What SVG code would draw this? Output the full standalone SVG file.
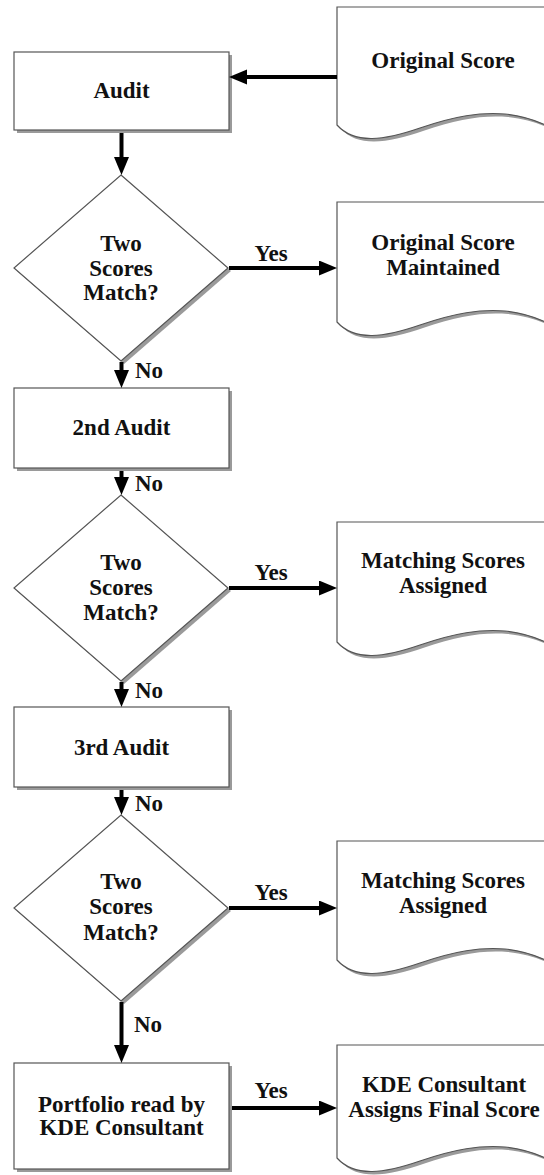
<svg xmlns="http://www.w3.org/2000/svg" width="544" height="1175" viewBox="0 0 544 1175">
<style>
.box{fill:#fff;stroke:#555;stroke-width:1.2}
.shd{fill:#9a9a9a;stroke:none}
text{font-family:'Liberation Serif',Tinos,'DejaVu Serif',serif;font-weight:bold;font-size:23px;fill:#111}
.t{text-anchor:middle}
.c{stroke:#000;stroke-width:4;fill:none;marker-end:url(#ah)}
</style>
<defs>
<marker id="ah" markerUnits="userSpaceOnUse" markerWidth="20" markerHeight="16" viewBox="0 0 20 16" refX="8" refY="7.5" orient="auto">
<path d="M0,0 L18,7.5 L0,15 Z" fill="#000"/>
</marker>
</defs>
<rect width="544" height="1175" fill="#fff"/>

<g id="doc-original">
<path class="shd" d="M340,10 L340,128 C358,148 388,143 423,131 C458,119 483,115 508,117 C528,119 543,125 555,131 L555,10 Z"/>
<path class="box" d="M337,7 L337,125 C355,145 385,140 420,128 C455,116 480,112 505,114 C525,116 540,122 552,128 L552,7 Z"/>
<text class="t" x="443" y="68">Original Score</text>
</g>

<g id="audit1">
<rect class="shd" x="17" y="55" width="215" height="78"/>
<rect class="box" x="14" y="52" width="215" height="78"/>
<text class="t" x="121.5" y="98">Audit</text>
</g>

<g id="decision1">
<polygon class="shd" points="124,178 231,271 124,364 17,271"/>
<polygon class="box" points="121,175 228,268 121,361 14,268"/>
<text class="t" x="121" y="251">Two</text>
<text class="t" x="121" y="276">Scores</text>
<text class="t" x="121" y="300">Match?</text>
</g>

<g id="doc-maintained">
<path class="shd" d="M340,205 L340,325 C358,345 388,340 423,328 C458,316 483,312 508,314 C528,316 543,322 555,328 L555,205 Z"/>
<path class="box" d="M337,202 L337,322 C355,342 385,337 420,325 C455,313 480,309 505,311 C525,313 540,319 552,325 L552,202 Z"/>
<text class="t" x="443" y="250">Original Score</text>
<text class="t" x="443" y="275">Maintained</text>
</g>

<g id="audit2">
<rect class="shd" x="17" y="391" width="215" height="80"/>
<rect class="box" x="14" y="388" width="215" height="80"/>
<text class="t" x="121.5" y="435">2nd Audit</text>
</g>

<g id="decision2">
<polygon class="shd" points="124,498 231,591 124,684 17,591"/>
<polygon class="box" points="121,495 228,588 121,681 14,588"/>
<text class="t" x="121" y="570">Two</text>
<text class="t" x="121" y="595">Scores</text>
<text class="t" x="121" y="620">Match?</text>
</g>

<g id="doc-matching1">
<path class="shd" d="M340,525 L340,645 C358,665 388,660 423,648 C458,636 483,632 508,634 C528,636 543,642 555,648 L555,525 Z"/>
<path class="box" d="M337,522 L337,642 C355,662 385,657 420,645 C455,633 480,629 505,631 C525,633 540,639 552,645 L552,522 Z"/>
<text class="t" x="443" y="568">Matching Scores</text>
<text class="t" x="443" y="593">Assigned</text>
</g>

<g id="audit3">
<rect class="shd" x="17" y="710" width="215" height="80"/>
<rect class="box" x="14" y="707" width="215" height="80"/>
<text class="t" x="121.5" y="755">3rd Audit</text>
</g>

<g id="decision3">
<polygon class="shd" points="124,818 231,911 124,1004 17,911"/>
<polygon class="box" points="121,815 228,908 121,1001 14,908"/>
<text class="t" x="121" y="889">Two</text>
<text class="t" x="121" y="914">Scores</text>
<text class="t" x="121" y="940">Match?</text>
</g>

<g id="doc-matching2">
<path class="shd" d="M340,844 L340,963 C358,983 388,978 423,966 C458,954 483,950 508,952 C528,954 543,960 555,966 L555,844 Z"/>
<path class="box" d="M337,841 L337,960 C355,980 385,975 420,963 C455,951 480,947 505,949 C525,951 540,957 552,963 L552,841 Z"/>
<text class="t" x="443" y="888">Matching Scores</text>
<text class="t" x="443" y="913">Assigned</text>
</g>

<g id="portfolio">
<rect class="shd" x="17" y="1066" width="215" height="106"/>
<rect class="box" x="14" y="1063" width="215" height="106"/>
<text class="t" x="121.5" y="1112">Portfolio read by</text>
<text class="t" x="121.5" y="1135">KDE Consultant</text>
</g>

<g id="doc-final">
<path class="shd" d="M340,1048 L340,1161 C358,1181 388,1176 423,1164 C458,1152 483,1148 508,1150 C528,1152 543,1158 555,1164 L555,1048 Z"/>
<path class="box" d="M337,1045 L337,1158 C355,1178 385,1173 420,1161 C455,1149 480,1145 505,1147 C525,1149 540,1155 552,1161 L552,1045 Z"/>
<text class="t" x="444" y="1092">KDE Consultant</text>
<text class="t" x="444" y="1117">Assigns Final Score</text>
</g>

<g id="connectors">
<line class="c" x1="337" y1="77" x2="239" y2="77"/>
<line class="c" x1="121.5" y1="133" x2="121.5" y2="165"/>
<line class="c" x1="229" y1="268" x2="327" y2="268"/>
<line class="c" x1="121.5" y1="362" x2="121.5" y2="378"/>
<line class="c" x1="121.5" y1="471" x2="121.5" y2="485"/>
<line class="c" x1="229" y1="588" x2="327" y2="588"/>
<line class="c" x1="121.5" y1="682" x2="121.5" y2="697"/>
<line class="c" x1="121.5" y1="790" x2="121.5" y2="805"/>
<line class="c" x1="229" y1="908" x2="327" y2="908"/>
<line class="c" x1="121.5" y1="1002" x2="121.5" y2="1053"/>
<line class="c" x1="232" y1="1108" x2="327" y2="1108"/>
<text class="t" x="271" y="261">Yes</text>
<text class="t" x="271" y="580">Yes</text>
<text class="t" x="271" y="900">Yes</text>
<text class="t" x="271" y="1098">Yes</text>
<text x="135" y="378">No</text>
<text x="135" y="491">No</text>
<text x="135" y="698">No</text>
<text x="135" y="811">No</text>
<text x="134" y="1032">No</text>
</g>
</svg>
